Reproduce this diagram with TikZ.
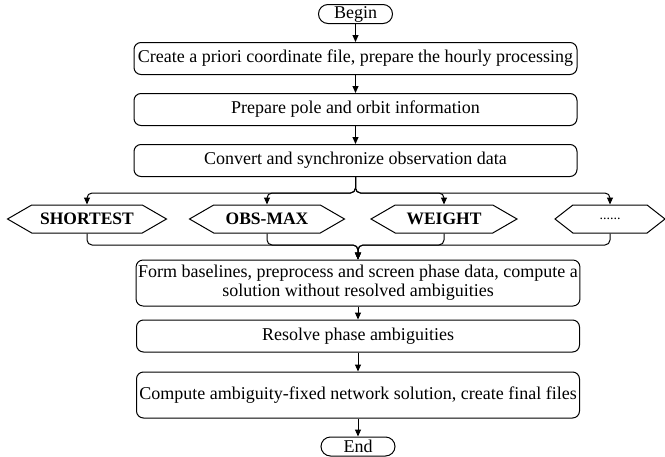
\documentclass[tikz,border=0pt]{standalone}
\usepackage{fontspec}
\setmainfont{Liberation Serif}
\usetikzlibrary{arrows.meta, positioning, shapes.symbols, calc}

\begin{document}
\begin{tikzpicture}[
x=1pt, y=-1pt,
line width=1pt,
font=\fontsize{18}{19}\selectfont,
box/.style={draw, rounded corners=7pt, align=center, minimum width=443pt, minimum height=32pt, inner sep=2pt},
term/.style={draw, rounded corners=9.5pt, minimum width=74pt, minimum height=19pt, inner sep=0pt},
hexa/.style={draw, signal, signal to=west and east, signal pointer angle=60, minimum height=28pt, inner sep=1pt, font=\bfseries\fontsize{17.5}{20}\selectfont},
arrow/.style={-{Triangle[length=7pt, width=6pt]}}
]
\useasboundingbox (0,0) rectangle (665,456);

\node[term] (begin) at (355.5,14) {Begin};
\node[box, below=18pt of begin] (prior) {Create a priori coordinate file, prepare the hourly processing};
\node[box, below=18pt of prior] (orbit) {Prepare pole and orbit information};
\node[box, below=18pt of orbit] (convert) {Convert and synchronize observation data};

\node[hexa, minimum width=159pt] (shortest) at (87,219) {SHORTEST};
\node[hexa, minimum width=155pt] (obsmax) at (267,219) {OBS-MAX};
\node[hexa, minimum width=146pt] (weight) at (444,219) {WEIGHT};
\node[hexa, minimum width=110pt, signal pointer angle=76, font=\fontsize{14}{16}\selectfont] (others) at (610,219) {......};

\node[box, minimum height=46pt] (form) at (358,283) {Form baselines, preprocess and screen phase data, compute a\\solution without resolved ambiguities};
\node[box, below=13pt of form] (resolve) {Resolve phase ambiguities};
\node[box, minimum height=46pt, below=19pt of resolve] (fixed) {Compute ambiguity-fixed network solution, create final files};
\node[term, below=18pt of fixed] (end) {End};

\coordinate (split) at (355.5,193);
\coordinate (merge) at (358,245);

\draw[arrow] (begin) -- (prior);
\draw[arrow] (prior) -- (orbit);
\draw[arrow] (orbit) -- (convert);

% fan out to the strategies
\foreach \s in {shortest, obsmax, weight, others}
  \draw[arrow, rounded corners=5pt] (convert.south) |- (\s.north |- split) -- (\s.north);

% and back together
\foreach \s in {shortest, obsmax, weight, others}
  \draw[arrow, rounded corners=5pt] (\s.south) |- (merge) -- (form.north);

\draw[arrow] (form) -- (resolve);
\draw[arrow] (resolve) -- (fixed);
\draw[arrow] (fixed) -- (end);

\end{tikzpicture}
\end{document}
